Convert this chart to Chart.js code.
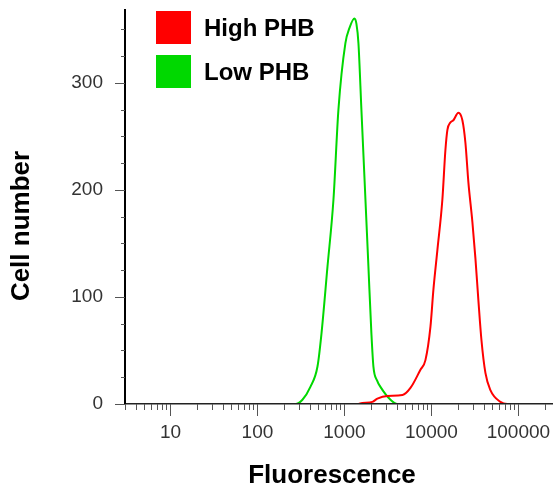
<!DOCTYPE html>
<html>
<head>
<meta charset="utf-8">
<title>PHB fluorescence histogram</title>
<script src="https://cdn.jsdelivr.net/npm/chart.js"></script>
<style>
  body { margin: 0; background: #fff; }
  #wrap { width: 553px; height: 491px; }
</style>
</head>
<body>
<div id="wrap"><canvas id="histo" width="553" height="491"></canvas></div>
<script>
// values (fluorescence channel -> cell count)
var HIGH_X = [3, 1410, 1600, 2100, 2393, 3119, 4645, 5741, 7480, 8536, 9745, 10550, 11720, 13370, 14480, 15270, 16520, 17900, 20420, 22700, 24600, 26620, 29590, 32060, 34670, 37580, 41770, 47660, 62100, 74800, 250000];
var HIGH_COUNTS = [0, 0, 1, 2, 5, 7.5, 8.4, 15, 32, 41, 72, 107, 144, 191, 237, 256, 263, 265, 272, 265, 244, 207, 170, 136, 97, 60, 29, 13, 2, 0, 0];

var LOW_X = [3, 273, 329, 406, 490, 545, 638, 748, 853, 1026, 1141, 1303, 1374, 1449, 1567, 1698, 1888, 2042, 2154, 2370, 2594, 3383, 4064, 250000];
var LOW_COUNTS = [0, 0, 4, 16, 35, 66, 128, 191, 275, 337, 351, 360, 355, 337, 275, 212, 128, 66, 35, 22, 16, 4, 0, 0];

var SERIES_LABELS = ["High PHB", "Low PHB"];
var SERIES_COLORS = ["#ff0000", "#00d800"];

var X_MIN = 3, X_MAX = 250000;
var Y_MIN = 0, Y_MAX = 368;
var Y_LABEL_STEP = 100, Y_MINOR_STEP = 25;
var X_TITLE = "Fluorescence";
var Y_TITLE = "Cell number";

Chart.defaults.font.family = '"Liberation Sans", Arial, sans-serif';

function isDecade(v) {
  var l = Math.log10(v);
  return Math.abs(l - Math.round(l)) < 1e-9;
}

function toPoints(xs, ys) {
  return xs.map(function (x, i) { return {x: x, y: ys[i]}; });
}

// tick marks of two lengths + legend + axis titles
var figureText = {
  id: 'figureText',
  afterDraw: function (chart) {
    var ctx = chart.ctx;
    var xs = chart.scales.x, ys = chart.scales.y;
    ctx.save();

    ctx.strokeStyle = '#555';
    ctx.lineWidth = 1;
    ctx.beginPath();
    xs.ticks.forEach(function (t) {
      var px = Math.round(xs.getPixelForValue(t.value)) + 0.5;
      var len = isDecade(t.value) ? 12 : 6;
      ctx.moveTo(px, xs.top);
      ctx.lineTo(px, xs.top + len);
    });
    ys.ticks.forEach(function (t) {
      var py = Math.round(ys.getPixelForValue(t.value)) + 0.5;
      var len = (t.value % Y_LABEL_STEP === 0) ? 10 : 4;
      ctx.moveTo(ys.right, py);
      ctx.lineTo(ys.right - len, py);
    });
    ctx.stroke();

    // legend boxes
    ctx.font = 'bold 24px "Liberation Sans", Arial, sans-serif';
    ctx.textBaseline = 'middle';
    ctx.textAlign = 'left';
    chart.data.datasets.forEach(function (ds, i) {
      var top = 11 + i * 44;
      ctx.fillStyle = ds.borderColor;
      ctx.fillRect(156, top, 35, 33);
      ctx.fillStyle = '#000';
      ctx.fillText(ds.label, 204, top + 18);
    });

    // axis titles
    ctx.font = 'bold 26px "Liberation Sans", Arial, sans-serif';
    ctx.textAlign = 'center';
    ctx.fillText(X_TITLE, 332, 476);
    ctx.translate(22, 226);
    ctx.rotate(-Math.PI / 2);
    ctx.fillText(Y_TITLE, 0, 0);
    ctx.restore();
  }
};

var chart = new Chart(document.getElementById('histo'), {
  type: 'line',
  data: {
    datasets: [
      {
        label: SERIES_LABELS[0],
        data: toPoints(HIGH_X, HIGH_COUNTS),
        borderColor: SERIES_COLORS[0],
        backgroundColor: SERIES_COLORS[0],
        borderWidth: 2,
        pointRadius: 0,
        cubicInterpolationMode: 'monotone'
      },
      {
        label: SERIES_LABELS[1],
        data: toPoints(LOW_X, LOW_COUNTS),
        borderColor: SERIES_COLORS[1],
        backgroundColor: SERIES_COLORS[1],
        borderWidth: 2,
        pointRadius: 0,
        cubicInterpolationMode: 'monotone'
      }
    ]
  },
  options: {
    responsive: false,
    animation: false,
    layout: { padding: { top: 10, left: 0, right: 0, bottom: 0 } },
    plugins: {
      legend: { display: false },
      tooltip: { enabled: false }
    },
    scales: {
      x: {
        type: 'logarithmic',
        min: X_MIN,
        max: X_MAX,
        bounds: 'data',
        grid: { display: false, drawTicks: false },
        border: { display: true, color: '#222', width: 1.5, z: 1 },
        ticks: {
          autoSkip: false,
          maxRotation: 0,
          padding: 17,
          color: '#333',
          font: { size: 19 },
          callback: function (v) { return isDecade(v) ? String(v) : ''; }
        },
        afterBuildTicks: function (scale) {
          var t = [];
          for (var e = 0; e <= 5; e++) {
            for (var m = 1; m <= 9; m++) {
              var v = m * Math.pow(10, e);
              if (v >= X_MIN && v <= X_MAX) t.push({value: v});
            }
          }
          scale.ticks = t;
        },
        afterFit: function (scale) {
          scale.height = 87;
          scale.paddingLeft = 0;
          scale.paddingRight = 0;
        }
      },
      y: {
        type: 'linear',
        min: Y_MIN,
        max: Y_MAX,
        grid: { display: false, drawTicks: false },
        border: { display: true, color: '#000', width: 2, z: 1 },
        ticks: {
          autoSkip: false,
          padding: 22,
          color: '#333',
          font: { size: 19 },
          callback: function (v) { return v % Y_LABEL_STEP === 0 ? String(v) : ''; }
        },
        afterBuildTicks: function (scale) {
          var t = [];
          for (var v = Y_MIN; v <= Y_MAX; v += Y_MINOR_STEP) t.push({value: v});
          scale.ticks = t;
        },
        afterFit: function (scale) {
          scale.width = 125;
          scale.paddingTop = 0;
          scale.paddingBottom = 0;
        }
      }
    }
  },
  plugins: [figureText]
});
</script>
</body>
</html>
